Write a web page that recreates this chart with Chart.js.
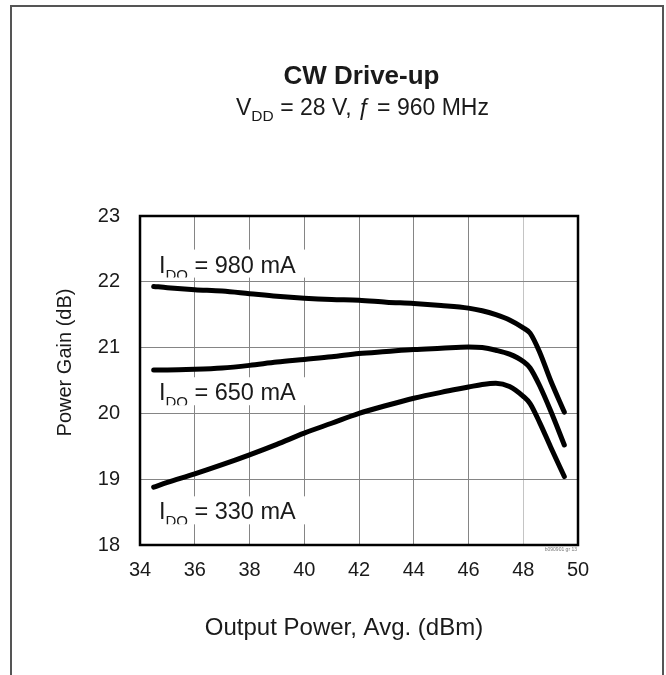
<!DOCTYPE html>
<html>
<head>
<meta charset="utf-8">
<script src="https://cdn.jsdelivr.net/npm/chart.js@4.4.1/dist/chart.umd.min.js"></script>
<style>
  html, body { margin: 0; padding: 0; background: #ffffff; }
  #wrap { position: relative; width: 666px; height: 675px; overflow: hidden; }
  canvas { position: absolute; left: 0; top: 0; }
</style>
</head>
<body>
<div id="wrap"><canvas id="c" width="666" height="675"></canvas></div>
<script>
// ---- data ----
const outputPower = [34.5, 35, 36, 37, 38, 39, 40, 41, 42, 43, 44, 45, 46, 46.5, 47, 47.5, 48, 48.25, 48.6, 49, 49.5];
const gain980 = [21.93, 21.91, 21.88, 21.86, 21.82, 21.78, 21.75, 21.73, 21.72, 21.69, 21.67, 21.64, 21.60, 21.56, 21.50, 21.42, 21.30, 21.22, 20.93, 20.50, 20.02];
const gain650 = [20.66, 20.66, 20.67, 20.69, 20.73, 20.78, 20.82, 20.86, 20.91, 20.94, 20.97, 20.99, 21.01, 21.00, 20.96, 20.90, 20.79, 20.69, 20.42, 20.04, 19.52];
const gain330 = [18.88, 18.95, 19.08, 19.22, 19.37, 19.53, 19.70, 19.85, 20.00, 20.12, 20.23, 20.32, 20.40, 20.44, 20.46, 20.41, 20.26, 20.15, 19.86, 19.49, 19.04];
const seriesNames = ['980 mA', '650 mA', '330 mA'];
const xTicks = [34, 36, 38, 40, 42, 44, 46, 48, 50];
const yTicks = [18, 19, 20, 21, 22, 23];
const titleText = 'CW Drive-up';
const xTitle = 'Output Power, Avg. (dBm)';
const yTitle = 'Power Gain (dB)';
// curve label positions (data units): x of text start, y of baseline
const labelX = 34.69;
const labelY = [22.14, 20.20, 18.39];

const FONT = '"Liberation Sans", Arial, Helvetica, sans-serif';
const INK = '#1a1a1a';
Chart.defaults.font.family = FONT;

function pts(ys) { return outputPower.map((x, i) => ({x: x, y: ys[i]})); }

const decor = {
  id: 'decor',
  beforeDraw(chart) {
    const ctx = chart.ctx;
    ctx.save();
    ctx.fillStyle = '#ffffff';
    ctx.fillRect(0, 0, chart.width, chart.height);
    // outer frame (open at the bottom)
    ctx.strokeStyle = '#555555';
    ctx.lineWidth = 2;
    ctx.beginPath();
    ctx.moveTo(11, 700);
    ctx.lineTo(11, 6);
    ctx.lineTo(663, 6);
    ctx.lineTo(663, 700);
    ctx.stroke();
    ctx.restore();
  },
  beforeDatasetsDraw(chart) {
    const ctx = chart.ctx;
    const xs = chart.scales.x, ys = chart.scales.y;
    ctx.save();
    labelY.forEach((v, i) => {
      const bx = xs.getPixelForValue(labelX) - 7;
      const base = ys.getPixelForValue(v);
      const top = base - 23, bottom = base + 5;
      ctx.fillStyle = '#ffffff';
      ctx.fillRect(bx, top, 158, bottom - top);
      ctx.save();
      ctx.beginPath();
      ctx.rect(bx, top, 158, bottom - top);
      ctx.clip();
      ctx.fillStyle = INK;
      ctx.textBaseline = 'alphabetic';
      ctx.textAlign = 'left';
      let x = xs.getPixelForValue(labelX);
      ctx.font = '23.5px ' + FONT;
      ctx.fillText('I', x, base);
      x += ctx.measureText('I').width;
      ctx.font = '15px ' + FONT;
      ctx.fillText('DQ', x, base + 7);
      x += ctx.measureText('DQ').width;
      ctx.font = '23.5px ' + FONT;
      ctx.fillText(' = ' + seriesNames[i], x, base);
      ctx.restore();
    });
    ctx.restore();
  },
  afterDraw(chart) {
    const ctx = chart.ctx;
    const a = chart.chartArea;
    ctx.save();
    // plot frame
    ctx.strokeStyle = '#000000';
    ctx.lineWidth = 2.5;
    ctx.strokeRect(a.left, a.top, a.right - a.left, a.bottom - a.top);
    const cx = (a.left + a.right) / 2;
    ctx.fillStyle = INK;
    ctx.textBaseline = 'alphabetic';
    // title
    ctx.textAlign = 'center';
    ctx.font = 'bold 26px ' + FONT;
    ctx.fillText(titleText, cx + 2.5, 84);
    // subtitle with subscript
    const runs = [
      {t: 'V', f: '23px ' + FONT, dy: 0},
      {t: 'DD', f: '15.5px ' + FONT, dy: 6},
      {t: ' = 28 V, ', f: '23px ' + FONT, dy: 0},
      {t: '\u0192', f: '23px ' + FONT, dy: 0},
      {t: ' = 960 MHz', f: '23px ' + FONT, dy: 0}
    ];
    let w = 0;
    runs.forEach(r => { ctx.font = r.f; r.w = ctx.measureText(r.t).width; w += r.w; });
    let x = cx + 3.5 - w / 2;
    ctx.textAlign = 'left';
    runs.forEach(r => { ctx.font = r.f; ctx.fillText(r.t, x, 115 + r.dy); x += r.w; });
    // axis titles
    ctx.textAlign = 'center';
    ctx.textBaseline = 'middle';
    ctx.font = '24px ' + FONT;
    ctx.fillText(xTitle, cx - 15, 628);
    ctx.save();
    ctx.translate(65, (a.top + a.bottom) / 2 - 18);
    ctx.rotate(-Math.PI / 2);
    ctx.font = '20px ' + FONT;
    ctx.fillText(yTitle, 0, 0);
    ctx.restore();
    // figure id
    ctx.textAlign = 'right';
    ctx.textBaseline = 'middle';
    ctx.fillStyle = '#777777';
    ctx.font = '5px ' + FONT;
    ctx.fillText('b090901 gr 13', a.right - 1, a.bottom + 5);
    ctx.restore();
  }
};

const lineStyle = {
  borderColor: '#000000',
  borderWidth: 5,
  pointRadius: 0,
  fill: false,
  cubicInterpolationMode: 'monotone',
  borderCapStyle: 'round',
  borderJoinStyle: 'round'
};

new Chart(document.getElementById('c'), {
  type: 'line',
  data: {
    datasets: [
      Object.assign({label: seriesNames[0], data: pts(gain980)}, lineStyle),
      Object.assign({label: seriesNames[1], data: pts(gain650)}, lineStyle),
      Object.assign({label: seriesNames[2], data: pts(gain330)}, lineStyle)
    ]
  },
  options: {
    responsive: false,
    animation: false,
    devicePixelRatio: 1,
    layout: { padding: { top: 216, right: 88, left: 0, bottom: 0 } },
    plugins: { legend: { display: false }, tooltip: { enabled: false }, title: { display: false } },
    scales: {
      x: {
        type: 'linear',
        min: xTicks[0],
        max: xTicks[xTicks.length - 1],
        afterBuildTicks: s => { s.ticks = xTicks.map(v => ({value: v})); },
        afterFit: s => { s.height = 130; },
        ticks: { color: INK, font: { size: 20 }, padding: 13, maxRotation: 0 },
        grid: {
          drawTicks: false,
          lineWidth: 1,
          color: c => (c.tick && c.tick.value === 48) ? '#c4c4c4' : '#858585'
        },
        border: { display: false }
      },
      y: {
        type: 'linear',
        min: yTicks[0],
        max: yTicks[yTicks.length - 1],
        afterBuildTicks: s => { s.ticks = yTicks.map(v => ({value: v})); },
        afterFit: s => { s.width = 140; },
        ticks: { color: INK, font: { size: 20 }, padding: 20 },
        grid: { drawTicks: false, lineWidth: 1, color: '#858585' },
        border: { display: false }
      }
    }
  },
  plugins: [decor]
});
</script>
</body>
</html>
